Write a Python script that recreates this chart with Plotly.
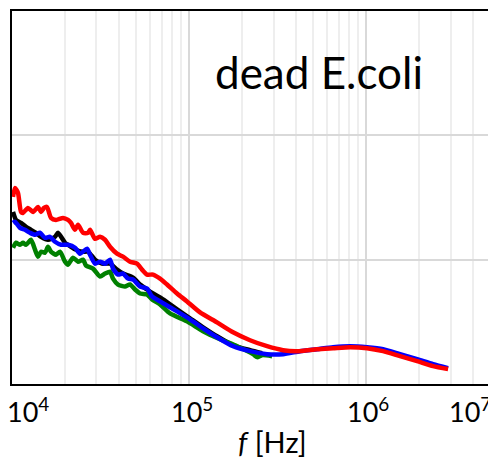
import plotly.graph_objects as go

# ---- data (frequency in Hz, signal in arbitrary units) ----
red_f = [10130, 10400, 10810, 11240, 11540, 12310, 13140, 14020, 14580, 15160,
         15760, 16600, 17730, 19420, 20720, 21540, 22700, 23600, 25190, 26880,
         27590, 29440, 31420, 33530, 35780, 39190, 42370, 46420, 50840, 54250,
         57900, 62610, 68590, 75120, 85550, 97430, 115400, 143900, 177300, 221100,
         275900, 339700, 407600, 528600, 651200, 812200, 1013000, 1247000, 1556000, 1942000,
         2391000, 2906000]
red_y = [1.504, 1.576, 1.536, 1.384, 1.376, 1.416, 1.384, 1.424, 1.384, 1.416,
         1.424, 1.336, 1.32, 1.336, 1.32, 1.296, 1.24, 1.28, 1.216, 1.216,
         1.24, 1.168, 1.184, 1.16, 1.104, 1.048, 1.024, 0.984, 0.968, 0.92,
         0.88, 0.88, 0.848, 0.8, 0.728, 0.664, 0.576, 0.496, 0.416, 0.352,
         0.304, 0.272, 0.264, 0.28, 0.288, 0.296, 0.288, 0.264, 0.224, 0.184,
         0.144, 0.12]

blue_f = [10130, 10400, 11100, 11840, 12640, 13490, 14390, 15360, 16390, 17500,
          18920, 20720, 22700, 24220, 26530, 27590, 29440, 31420, 33530, 35780,
          37200, 39710, 42370, 45220, 48260, 52860, 57900, 61800, 68590, 85550,
          101300, 120000, 143900, 177300, 221100, 275900, 339700, 423700, 528600, 651200,
          812200, 1013000, 1247000, 1556000, 1942000, 2391000, 2906000]
blue_y = [1.296, 1.304, 1.256, 1.24, 1.216, 1.2, 1.216, 1.176, 1.184, 1.144,
          1.12, 1.12, 1.096, 1.048, 1.088, 1.04, 0.968, 0.984, 0.968, 1.0,
          0.928, 0.88, 0.888, 0.848, 0.84, 0.784, 0.768, 0.704, 0.664, 0.584,
          0.52, 0.448, 0.376, 0.304, 0.264, 0.24, 0.24, 0.264, 0.28, 0.296,
          0.304, 0.296, 0.28, 0.24, 0.2, 0.16, 0.128]

black_f = [10130, 10530, 11240, 12000, 12800, 13660, 14580, 15970, 17500, 18200,
           19930, 21540, 22990, 24860, 26880, 29440, 32250, 35780, 39190, 42370,
           48260, 52860, 57900, 62610, 71320, 85550, 101300, 120000, 143900, 177300,
           221100, 258500]
black_y = [1.384, 1.32, 1.296, 1.264, 1.24, 1.216, 1.184, 1.16, 1.184, 1.216,
           1.136, 1.104, 1.08, 1.064, 1.064, 1.0, 0.968, 0.968, 0.92, 0.888,
           0.856, 0.8, 0.76, 0.728, 0.68, 0.6, 0.528, 0.456, 0.384, 0.312,
           0.272, 0.248]

green_f = [10130, 10530, 11100, 11540, 12000, 12800, 13490, 14020, 14580, 15360,
           15970, 16600, 17730, 18680, 19930, 20720, 22110, 23600, 25190, 26190,
           28680, 31420, 33530, 35780, 37200, 39710, 43490, 46420, 49530, 52860,
           57900, 61800, 68590, 78110, 97430, 120000, 149600, 186800, 229900, 242200,
           258500, 294400]
green_y = [1.096, 1.136, 1.12, 1.136, 1.12, 1.16, 1.08, 1.024, 1.064, 1.056,
           1.104, 1.064, 1.04, 1.064, 0.984, 0.96, 1.016, 0.984, 1.0, 0.952,
           0.928, 0.864, 0.888, 0.904, 0.848, 0.8, 0.784, 0.8, 0.76, 0.728,
           0.72, 0.68, 0.64, 0.568, 0.504, 0.424, 0.36, 0.304, 0.24, 0.216,
           0.232, 0.224]

decades = [1e4, 1e5, 1e6, 1e7]
tick_labels = ["10<sup>4</sup>", "10<sup>5</sup>", "10<sup>6</sup>", "10<sup>7</sup>"]
label_title = "dead E.coli"
x_title = "<i>f</i> [Hz]"

FONT = "Lato, 'Open Sans', sans-serif"

fig = go.Figure()
series = [
    (black_f, black_y, "#000000"),
    (green_f, green_y, "#008000"),
    (blue_f, blue_y, "#0000ff"),
    (red_f, red_y, "#ff0000"),
]
for fx, fy, col in series:
    fig.add_trace(go.Scatter(x=fx, y=fy, mode="lines",
                             line=dict(color=col, width=4.5, shape="spline", smoothing=0.6),
                             showlegend=False, hoverinfo="skip"))

minor_vals = [m * d for d in decades[:-1] for m in range(2, 10)]

# the page body adds an 8px offset, so the figure is shifted accordingly
fig.update_layout(
    width=496, height=458, autosize=False,
    margin=dict(l=4, r=14, t=1, b=82),
    paper_bgcolor="white", plot_bgcolor="white",
    showlegend=False,
    font=dict(family=FONT, color="black"),
    xaxis=dict(type="log", range=[4, 6.70],
               tickvals=decades, showticklabels=False, ticks="",
               showgrid=True, gridcolor="#d9d9d9", gridwidth=1.5,
               minor=dict(tickvals=minor_vals, showgrid=True, gridcolor="#eeeeee", gridwidth=1.5, ticks=""),
               showline=True, linecolor="black", linewidth=2, mirror=True, zeroline=False),
    yaxis=dict(range=[0, 3], tickvals=[1, 2], showticklabels=False, ticks="",
               showgrid=True, gridcolor="#d9d9d9", gridwidth=1.5,
               showline=True, linecolor="black", linewidth=2, mirror=True, zeroline=False),
)

# tick labels (placed as in the original figure)
label_px = [0.034, 0.377, 0.745, 0.958]
for xp, txt in zip(label_px, tick_labels):
    fig.add_annotation(text=txt, xref="paper", yref="paper", x=xp, y=-0.07,
                       xanchor="center", yanchor="middle", showarrow=False,
                       font=dict(size=27, family=FONT, color="black"))

fig.add_annotation(text=x_title, xref="paper", yref="paper", x=0.545, y=-0.153,
                   xanchor="center", yanchor="middle", showarrow=False,
                   font=dict(size=29, family=FONT, color="black"))

fig.add_annotation(text=label_title, xref="paper", yref="paper", x=0.642, y=0.836,
                   xanchor="center", yanchor="middle", showarrow=False,
                   font=dict(size=44, family=FONT, color="black"))

fig.write_html("out.html")
